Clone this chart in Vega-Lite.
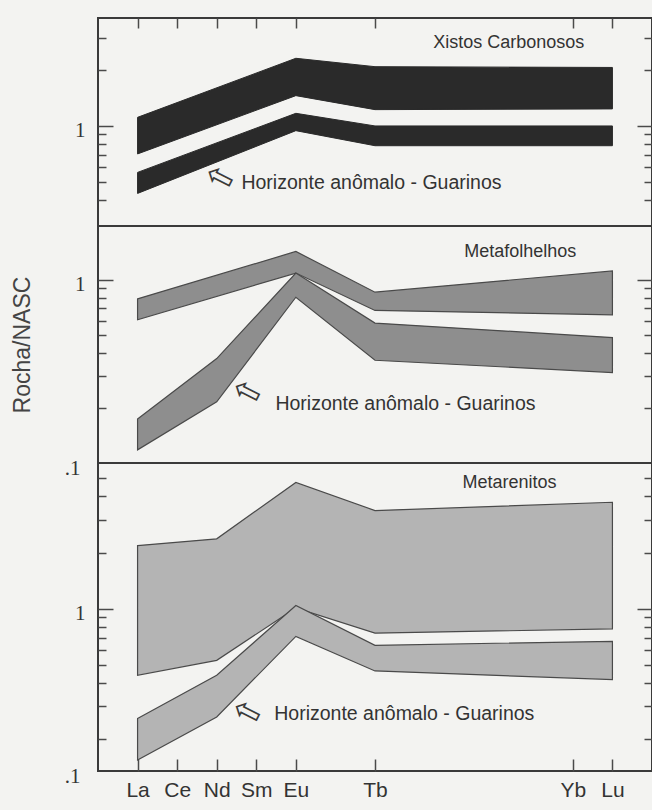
{
  "$schema": "https://vega.github.io/schema/vega-lite/v6.json",
  "background": "#f3f3f1",
  "padding": {"left": 10, "top": 16, "right": 0, "bottom": 40},
  "spacing": 0,
  "bounds": "flush",
  "config": {
    "view": {"stroke": "#3a3a3a", "strokeWidth": 2},
    "axis": {"domain": false, "grid": false, "tickColor": "#4a4a4a", "tickWidth": 1.5, "labelFont": "Liberation Serif", "labelFontSize": 21, "labelColor": "#333333", "titleFont": "Liberation Sans", "titleFontWeight": "normal", "titleFontSize": 23, "titleColor": "#444444", "labelOverlap": false, "labelFlush": false}
  },
  "datasets": {
    "bands": [
      {"panel": "top", "band": "A", "x": 0, "lo": 0.706, "hi": 1.113},
      {"panel": "top", "band": "A", "x": 4, "lo": 1.458, "hi": 2.32},
      {"panel": "top", "band": "A", "x": 6, "lo": 1.225, "hi": 2.09},
      {"panel": "top", "band": "A", "x": 12, "lo": 1.236, "hi": 2.07},
      {"panel": "top", "band": "B", "x": 0, "lo": 0.432, "hi": 0.561},
      {"panel": "top", "band": "B", "x": 4, "lo": 0.943, "hi": 1.17},
      {"panel": "top", "band": "B", "x": 6, "lo": 0.782, "hi": 1.0},
      {"panel": "top", "band": "B", "x": 12, "lo": 0.782, "hi": 1.0},
      {"panel": "mid", "band": "A", "x": 0, "lo": 0.606, "hi": 0.788},
      {"panel": "mid", "band": "A", "x": 4, "lo": 1.09, "hi": 1.43},
      {"panel": "mid", "band": "A", "x": 6, "lo": 0.681, "hi": 0.857},
      {"panel": "mid", "band": "A", "x": 12, "lo": 0.645, "hi": 1.12},
      {"panel": "mid", "band": "B", "x": 0, "lo": 0.118, "hi": 0.174},
      {"panel": "mid", "band": "B", "x": 2, "lo": 0.216, "hi": 0.372},
      {"panel": "mid", "band": "B", "x": 4, "lo": 0.804, "hi": 1.09},
      {"panel": "mid", "band": "B", "x": 6, "lo": 0.364, "hi": 0.581},
      {"panel": "mid", "band": "B", "x": 12, "lo": 0.312, "hi": 0.484},
      {"panel": "bot", "band": "A", "x": 0, "lo": 0.44, "hi": 2.18},
      {"panel": "bot", "band": "A", "x": 2, "lo": 0.529, "hi": 2.37},
      {"panel": "bot", "band": "A", "x": 4, "lo": 1.01, "hi": 4.75},
      {"panel": "bot", "band": "A", "x": 6, "lo": 0.74, "hi": 3.36},
      {"panel": "bot", "band": "A", "x": 12, "lo": 0.78, "hi": 3.72},
      {"panel": "bot", "band": "B", "x": 0, "lo": 0.1545, "hi": 0.258},
      {"panel": "bot", "band": "B", "x": 2, "lo": 0.263, "hi": 0.44},
      {"panel": "bot", "band": "B", "x": 4, "lo": 0.711, "hi": 1.04},
      {"panel": "bot", "band": "B", "x": 6, "lo": 0.464, "hi": 0.637},
      {"panel": "bot", "band": "B", "x": 12, "lo": 0.417, "hi": 0.669}
    ],
    "notes": [
      {"panel": "top", "kind": "name", "x": 9.38, "y": 2.8, "text": "Xistos Carbonosos"},
      {"panel": "top", "kind": "note", "x": 5.91, "y": 0.491, "text": "Horizonte anômalo - Guarinos"},
      {"panel": "mid", "kind": "name", "x": 9.67, "y": 1.413, "text": "Metafolhelhos"},
      {"panel": "mid", "kind": "note", "x": 6.77, "y": 0.21, "text": "Horizonte anômalo - Guarinos"},
      {"panel": "bot", "kind": "name", "x": 9.4, "y": 4.69, "text": "Metarenitos"},
      {"panel": "bot", "kind": "note", "x": 6.74, "y": 0.272, "text": "Horizonte anômalo - Guarinos"}
    ],
    "arrows": [
      {"panel": "top", "x": 2.08, "y": 0.522},
      {"panel": "mid", "x": 2.77, "y": 0.2425},
      {"panel": "bot", "x": 2.77, "y": 0.277}
    ]
  },
  "vconcat": [
    {
      "width": 554,
      "height": 208,
      "resolve": {"axis": {"y": "independent"}},
      "layer": [
        {
          "data": {"name": "bands"},
          "transform": [{"filter": "datum.panel === 'top'"}],
          "mark": {"type": "area", "fill": "#2a2a2a", "stroke": "#2a2a2a", "strokeWidth": 1, "clip": true},
          "encoding": {
            "x": {"field": "x", "type": "quantitative", "scale": {"domain": [-1, 13], "nice": false, "zero": false}, "axis": {"orient": "top", "values": [0, 1, 2, 3, 4, 6, 11, 12], "labels": false, "tickSize": -10, "title": null}},
            "y": {"field": "hi", "type": "quantitative", "scale": {"type": "log", "domain": [0.288, 3.83], "nice": false}, "axis": {"orient": "left", "values": [0.4, 0.5, 0.6, 0.7, 0.8, 0.9, 1, 2, 3], "labelExpr": "datum.value === 1 ? '1' : ''", "labelFont": "Liberation Serif", "labelFontSize": 21, "tickSize": {"condition": {"test": "datum.value === 1", "value": -15}, "value": -8}, "labelPadding": {"condition": {"test": "datum.value === 1", "value": 28}, "value": 26}, "labelOffset": 5, "title": null}},
            "y2": {"field": "lo"},
            "detail": {"field": "band"}
          }
        },
        {
          "data": {"name": "notes"},
          "transform": [{"filter": "datum.panel === 'top'"}],
          "mark": {"type": "text", "font": "Liberation Sans", "color": "#333333", "align": "center", "baseline": "middle"},
          "encoding": {
            "x": {"field": "x", "type": "quantitative", "scale": {"domain": [-1, 13], "nice": false, "zero": false}, "axis": {"orient": "top", "values": [0, 1, 2, 3, 4, 6, 11, 12], "labels": false, "tickSize": -10, "title": null}},
            "y": {"field": "y", "type": "quantitative", "scale": {"type": "log", "domain": [0.288, 3.83], "nice": false}, "axis": {"orient": "right", "values": [0.4, 0.5, 0.6, 0.7, 0.8, 0.9, 1, 2, 3], "labels": false, "tickSize": {"condition": {"test": "datum.value === 1", "value": -15}, "value": -8}, "title": null}},
            "text": {"field": "text"},
            "size": {"field": "kind", "type": "nominal", "scale": {"domain": ["name", "note"], "range": [18, 19.5]}, "legend": null}
          }
        },
        {
          "data": {"name": "arrows"},
          "transform": [{"filter": "datum.panel === 'top'"}],
          "mark": {"type": "text", "text": "⇦", "font": "DejaVu Sans", "fontSize": 34, "angle": 27, "color": "#3a3a3a", "align": "center", "baseline": "middle"},
          "encoding": {
            "x": {"field": "x", "type": "quantitative", "scale": {"domain": [-1, 13], "nice": false, "zero": false}, "axis": {"orient": "top", "values": [0, 1, 2, 3, 4, 6, 11, 12], "labels": false, "tickSize": -10, "title": null}},
            "y": {"field": "y", "type": "quantitative", "scale": {"type": "log", "domain": [0.288, 3.83], "nice": false}, "axis": null}
          }
        }
      ]
    },
    {
      "width": 554,
      "height": 237,
      "resolve": {"axis": {"y": "independent"}},
      "layer": [
        {
          "data": {"name": "bands"},
          "transform": [{"filter": "datum.panel === 'mid'"}],
          "mark": {"type": "area", "fill": "#8e8e8e", "stroke": "#4a4a4a", "strokeWidth": 1.2, "clip": true},
          "encoding": {
            "x": {"field": "x", "type": "quantitative", "scale": {"domain": [-1, 13], "nice": false, "zero": false}, "axis": null},
            "y": {"field": "hi", "type": "quantitative", "scale": {"type": "log", "domain": [0.1, 1.97], "nice": false}, "axis": {"orient": "left", "values": [0.1, 0.2, 0.3, 0.4, 0.5, 0.6, 0.7, 0.8, 0.9, 1], "labelExpr": "datum.value === 1 ? '1' : (datum.value < 0.15 ? '.1' : '')", "labelFont": "Liberation Serif", "labelFontSize": 21, "tickSize": {"condition": {"test": "datum.value === 1", "value": -15}, "value": -8}, "tickOpacity": {"condition": {"test": "datum.value < 0.15", "value": 0}, "value": 1}, "labelPadding": {"condition": {"test": "datum.value === 1", "value": 28}, "value": 26}, "labelOffset": 5, "title": "Rocha/NASC", "titleFont": "Liberation Sans", "titleFontSize": 23, "titlePadding": 30}},
            "y2": {"field": "lo"},
            "detail": {"field": "band"}
          }
        },
        {
          "data": {"name": "notes"},
          "transform": [{"filter": "datum.panel === 'mid'"}],
          "mark": {"type": "text", "font": "Liberation Sans", "color": "#333333", "align": "center", "baseline": "middle"},
          "encoding": {
            "x": {"field": "x", "type": "quantitative", "scale": {"domain": [-1, 13], "nice": false, "zero": false}, "axis": null},
            "y": {"field": "y", "type": "quantitative", "scale": {"type": "log", "domain": [0.1, 1.97], "nice": false}, "axis": {"orient": "right", "values": [0.2, 0.3, 0.4, 0.5, 0.6, 0.7, 0.8, 0.9, 1], "labels": false, "tickSize": {"condition": {"test": "datum.value === 1", "value": -15}, "value": -8}, "title": null}},
            "text": {"field": "text"},
            "size": {"field": "kind", "type": "nominal", "scale": {"domain": ["name", "note"], "range": [18, 19.5]}, "legend": null}
          }
        },
        {
          "data": {"name": "arrows"},
          "transform": [{"filter": "datum.panel === 'mid'"}],
          "mark": {"type": "text", "text": "⇦", "font": "DejaVu Sans", "fontSize": 34, "angle": 27, "color": "#3a3a3a", "align": "center", "baseline": "middle"},
          "encoding": {
            "x": {"field": "x", "type": "quantitative", "scale": {"domain": [-1, 13], "nice": false, "zero": false}, "axis": null},
            "y": {"field": "y", "type": "quantitative", "scale": {"type": "log", "domain": [0.1, 1.97], "nice": false}, "axis": null}
          }
        }
      ]
    },
    {
      "width": 554,
      "height": 308,
      "resolve": {"axis": {"y": "independent"}},
      "layer": [
        {
          "data": {"name": "bands"},
          "transform": [{"filter": "datum.panel === 'bot'"}],
          "mark": {"type": "area", "fill": "#b4b4b4", "stroke": "#4a4a4a", "strokeWidth": 1.2, "clip": true},
          "encoding": {
            "x": {"field": "x", "type": "quantitative", "scale": {"domain": [-1, 13], "nice": false, "zero": false}, "axis": {"orient": "bottom", "values": [0, 1, 2, 3, 4, 6, 11, 12], "labelExpr": "datum.value == 0 ? 'La' : datum.value == 1 ? 'Ce' : datum.value == 2 ? 'Nd' : datum.value == 3 ? 'Sm' : datum.value == 4 ? 'Eu' : datum.value == 6 ? 'Tb' : datum.value == 11 ? 'Yb' : 'Lu'", "labelFont": "Liberation Sans", "labelFontSize": 21, "labelColor": "#333333", "labelPadding": 20, "tickSize": -12, "title": null}},
            "y": {"field": "hi", "type": "quantitative", "scale": {"type": "log", "domain": [0.135, 6.04], "nice": false}, "axis": {"orient": "left", "values": [0.135, 0.2, 0.3, 0.4, 0.5, 0.6, 0.7, 0.8, 0.9, 1, 2, 3, 4, 5], "labelExpr": "datum.value === 1 ? '1' : (datum.value < 0.15 ? '.1' : '')", "labelFont": "Liberation Serif", "labelFontSize": 21, "tickSize": {"condition": {"test": "datum.value === 1", "value": -15}, "value": -8}, "tickOpacity": {"condition": {"test": "datum.value < 0.15", "value": 0}, "value": 1}, "labelPadding": {"condition": {"test": "datum.value === 1", "value": 28}, "value": 26}, "labelOffset": 5, "title": null}},
            "y2": {"field": "lo"},
            "detail": {"field": "band"}
          }
        },
        {
          "data": {"name": "notes"},
          "transform": [{"filter": "datum.panel === 'bot'"}],
          "mark": {"type": "text", "font": "Liberation Sans", "color": "#333333", "align": "center", "baseline": "middle"},
          "encoding": {
            "x": {"field": "x", "type": "quantitative", "scale": {"domain": [-1, 13], "nice": false, "zero": false}, "axis": {"orient": "bottom", "values": [0, 1, 2, 3, 4, 6, 11, 12], "labelExpr": "datum.value == 0 ? 'La' : datum.value == 1 ? 'Ce' : datum.value == 2 ? 'Nd' : datum.value == 3 ? 'Sm' : datum.value == 4 ? 'Eu' : datum.value == 6 ? 'Tb' : datum.value == 11 ? 'Yb' : 'Lu'", "labelFont": "Liberation Sans", "labelFontSize": 21, "labelColor": "#333333", "labelPadding": 20, "tickSize": -12, "title": null}},
            "y": {"field": "y", "type": "quantitative", "scale": {"type": "log", "domain": [0.135, 6.04], "nice": false}, "axis": {"orient": "right", "values": [0.2, 0.3, 0.4, 0.5, 0.6, 0.7, 0.8, 0.9, 1, 2, 3, 4, 5], "labels": false, "tickSize": {"condition": {"test": "datum.value === 1", "value": -15}, "value": -8}, "title": null}},
            "text": {"field": "text"},
            "size": {"field": "kind", "type": "nominal", "scale": {"domain": ["name", "note"], "range": [18, 19.5]}, "legend": null}
          }
        },
        {
          "data": {"name": "arrows"},
          "transform": [{"filter": "datum.panel === 'bot'"}],
          "mark": {"type": "text", "text": "⇦", "font": "DejaVu Sans", "fontSize": 34, "angle": 27, "color": "#3a3a3a", "align": "center", "baseline": "middle"},
          "encoding": {
            "x": {"field": "x", "type": "quantitative", "scale": {"domain": [-1, 13], "nice": false, "zero": false}, "axis": {"orient": "bottom", "values": [0, 1, 2, 3, 4, 6, 11, 12], "labelExpr": "datum.value == 0 ? 'La' : datum.value == 1 ? 'Ce' : datum.value == 2 ? 'Nd' : datum.value == 3 ? 'Sm' : datum.value == 4 ? 'Eu' : datum.value == 6 ? 'Tb' : datum.value == 11 ? 'Yb' : 'Lu'", "labelFont": "Liberation Sans", "labelFontSize": 21, "labelColor": "#333333", "labelPadding": 20, "tickSize": -12, "title": null}},
            "y": {"field": "y", "type": "quantitative", "scale": {"type": "log", "domain": [0.135, 6.04], "nice": false}, "axis": null}
          }
        }
      ]
    }
  ]
}
